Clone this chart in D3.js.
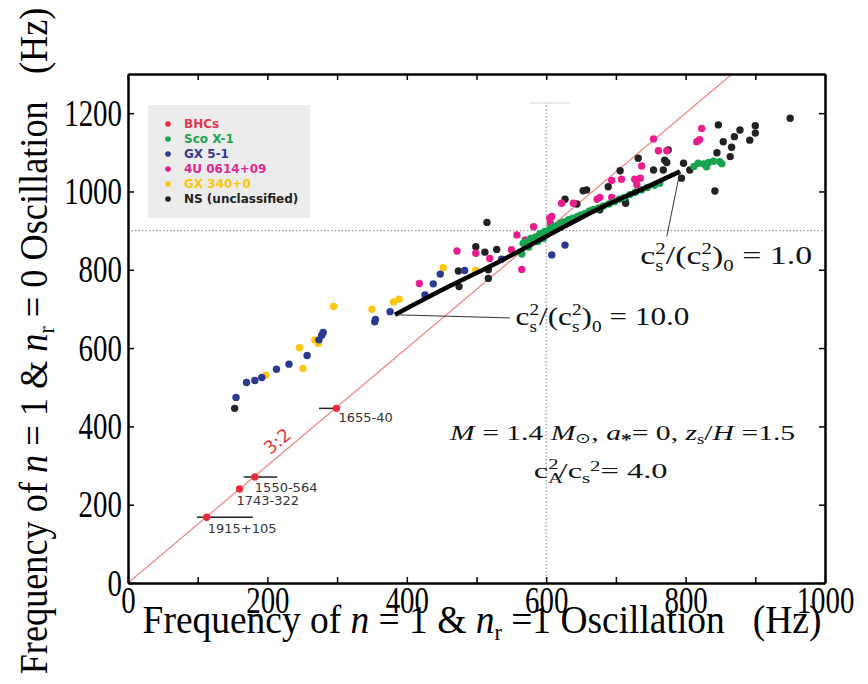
<!DOCTYPE html>
<html>
<head>
<meta charset="utf-8">
<script src="https://cdn.jsdelivr.net/npm/d3@7"></script>
<style>
  body { margin: 0; background: #fff; }
  svg { display: block; }
</style>
</head>
<body>
<svg id="chart" width="868" height="684"></svg>
<script>
// ---- data (Hz) ----
const seriesNames = ["BHCs", "Sco X-1", "GX 5-1", "4U 0614+09", "GX 340+0", "NS (unclassified)"];

const bhcNames = ["1915+105", "1743-322", "1550-564", "1655-40"];
const bhcLow   = [113, 160, 182, 299];
const bhcHigh  = [168, 240, 271, 446];
const bhcErrLo = [99, 160, 166, 274];
const bhcErrHi = [179, 160, 214, 300];

const scoX = [565,567,575,572,578,588,585,591,596,598,605,610,615,620,625,632,638,645,650,656,662,668,675,682,690,698,705,712,720,728,737,745,755,763,812,818,826,833,840,849,852,830];
const scoY = [840,868,858,872,880,872,884,893,880,898,904,910,912,918,922,928,932,936,940,944,950,954,958,963,968,974,980,985,992,998,1004,1010,1016,1021,1064,1072,1070,1074,1077,1076,1071,1063];

const gx5X = [155,170,182,192,213,231,257,274,278,280,354,355,376,426,438,448,483,536,608,627];
const gx5Y = [474,512,517,525,546,559,581,621,633,640,667,673,693,736,764,789,798,827,838,863];

const fourUX = [418,472,499,519,550,565,558,570,582,605,606,608,622,639,677,673,694,694,708,727,730,735,737,754,761,773,816,820,823];
const fourUY = [765,848,842,829,851,801,889,876,910,932,919,936,970,970,985,980,985,1028,1031,1031,1017,1034,1065,1134,1104,1104,1127,1132,1161];

const gx340X = [198,246,251,268,273,295,350,381,389,452,499];
const gx340Y = [531,601,548,621,612,706,699,718,725,805,798];

const nsX = [153,474,475,499,512,515,517,517,529,644,627,653,658,677,689,706,713,714,732,754,768,770,773,775,794,797,806,842,845,847,854,864,866,870,878,892,900,900,950];
const nsY = [446,797,757,859,845,921,800,778,852,968,980,1002,1004,953,1012,1053,978,970,1085,1055,1055,1080,1074,1106,1034,1072,1055,1001,1099,1170,1127,1089,1113,1140,1157,1131,1168,1149,1187];

// model curve, cs^2/(cs^2)_0 from 10.0 (low end) to 1.0 (high end)
const modelX = [383,460,534,600,680,740,792];
const modelY = [685,757,822,885,960,1008,1051];

const xTicks = [0,100,200,300,400,500,600,700,800,900,1000];
const yTicks = [0,200,400,600,800,1000,1200];

// ---- layout ----
const SERIF = "'Liberation Serif', 'Times New Roman', serif";
const SANS = "'DejaVu Sans', Verdana, sans-serif";
const svg = d3.select("#chart");
const x = d3.scaleLinear().domain([0, 1000]).range([128, 825]);
const y = d3.scaleLinear().domain([0, 1300]).range([583, 74]);

const colors = ["#ee2a3b", "#18a550", "#2b3990", "#ec1c8c", "#fdc70f", "#222222"];
const textColors = ["#e8384f", "#1fa24f", "#34388f", "#e2288c", "#fbc60f", "#222222"];

function fitWidth(sel, w) {
  const b = sel.node().getBBox();
  sel.attr("transform", "scale(" + (w / b.width) + ",1)");
}

// reference lines
svg.append("line")
  .attr("x1", x(0)).attr("x2", x(1000)).attr("y1", y(900)).attr("y2", y(900))
  .attr("stroke", "#999").attr("stroke-width", 1.2).attr("stroke-dasharray", "1.5,2");
svg.append("line")
  .attr("x1", x(600)).attr("x2", x(600)).attr("y1", y(0)).attr("y2", y(1226))
  .attr("stroke", "#999").attr("stroke-width", 1.2).attr("stroke-dasharray", "1.5,2");
svg.append("line")
  .attr("x1", x(577)).attr("x2", x(634)).attr("y1", y(1226)).attr("y2", y(1226))
  .attr("stroke", "#ddd").attr("stroke-width", 1.2);

// 3:2 line
svg.append("line")
  .attr("x1", x(0)).attr("y1", y(0)).attr("x2", x(1300 / 1.5)).attr("y2", y(1300))
  .attr("stroke", "#f08a8a").attr("stroke-width", 1.3);

// legend
const lg = svg.append("g");
lg.append("rect").attr("x", 148).attr("y", 105).attr("width", 162).attr("height", 113).attr("fill", "#ececec");
seriesNames.forEach((n, i) => {
  lg.append("circle").attr("cx", 168).attr("cy", 124 + i * 15).attr("r", 2.8).attr("fill", colors[i]);
  lg.append("text").attr("font-family", SANS).attr("font-weight", "bold").attr("x", 184).attr("y", 124 + i * 15)
    .attr("dy", "0.35em").attr("font-size", 12).attr("fill", textColors[i]).text(n);
});

// scatter points
function dots(xs, ys, color) {
  svg.append("g").selectAll("circle").data(xs.map((v, i) => [v, ys[i]])).enter()
    .append("circle")
    .attr("cx", d => x(d[0])).attr("cy", d => y(d[1]))
    .attr("r", 3.7).attr("fill", color);
}
dots(nsX, nsY, colors[5]);
dots(gx340X, gx340Y, colors[4]);
dots(gx5X, gx5Y, colors[2]);
dots(fourUX, fourUY, colors[3]);
dots(scoX, scoY, colors[1]);

// model curve
svg.append("path")
  .datum(modelX.map((v, i) => [v, modelY[i]]))
  .attr("d", d3.line().x(d => x(d[0])).y(d => y(d[1])).curve(d3.curveMonotoneX))
  .attr("fill", "none").attr("stroke", "#000").attr("stroke-width", 4.5);

// BHCs with error bars
const bhc = svg.append("g");
bhcNames.forEach((n, i) => {
  if (bhcErrHi[i] > bhcErrLo[i]) {
    bhc.append("line").attr("x1", x(bhcErrLo[i])).attr("x2", x(bhcErrHi[i]))
      .attr("y1", y(bhcHigh[i])).attr("y2", y(bhcHigh[i]))
      .attr("stroke", "#222").attr("stroke-width", 1.5);
  }
  bhc.append("circle").attr("cx", x(bhcLow[i])).attr("cy", y(bhcHigh[i])).attr("r", 3.7).attr("fill", colors[0]);
});
const bhcLabelOffset = [[1, 16], [-3, 16], [0, 15], [2, 14]];
bhcNames.forEach((n, i) => {
  bhc.append("text").attr("font-family", SANS)
    .attr("x", x(bhcLow[i]) + bhcLabelOffset[i][0]).attr("y", y(bhcHigh[i]) + bhcLabelOffset[i][1])
    .attr("font-size", 13).attr("fill", "#333").text(n);
});

// 3:2 label
svg.append("text").attr("font-family", SANS)
  .attr("transform", "translate(" + x(220) + "," + y(350) + ") rotate(-40)")
  .attr("text-anchor", "middle").attr("font-size", 18).attr("fill", "#e83a3a").text("3:2");

// leader lines for model labels
const leader10 = [[383, 685], [548, 677]];
const leader1 = [[792, 1051], [773, 885]];
[leader10, leader1].forEach(l => {
  svg.append("line").attr("x1", x(l[0][0])).attr("y1", y(l[0][1]))
    .attr("x2", x(l[1][0])).attr("y2", y(l[1][1]))
    .attr("stroke", "#333").attr("stroke-width", 1);
});

// cs^2/(cs^2)_0 labels
function csLabel(px, py, val, width) {
  const g = svg.append("g").attr("transform", "translate(" + px + "," + py + ")");
  const t = g.append("text").attr("font-family", SERIF).attr("font-size", 26).attr("fill", "#111");
  t.append("tspan").text("c");
  t.append("tspan").attr("font-size", 16).attr("dy", 7).text("s");
  t.append("tspan").attr("font-size", 16).attr("dx", -6.2).attr("dy", -17).text("2");
  t.append("tspan").attr("dy", 10).text("/(c");
  t.append("tspan").attr("font-size", 16).attr("dy", 7).text("s");
  t.append("tspan").attr("font-size", 16).attr("dx", -6.2).attr("dy", -17).text("2");
  t.append("tspan").attr("dy", 10).text(")");
  t.append("tspan").attr("font-size", 16).attr("dy", 7).text("0");
  t.append("tspan").attr("dy", -7).style("white-space", "pre").text(" = " + val);
  fitWidth(t, width);
}
csLabel(x(556), y(658), "10.0", 174);
csLabel(x(735), y(815), "1.0", 172);

// parameter text
{
  const g = svg.append("g").attr("transform", "translate(" + x(462) + "," + y(366) + ")");
  const t = g.append("text").attr("font-family", SERIF).attr("font-size", 22).attr("fill", "#111").style("white-space", "pre");
  t.append("tspan").attr("font-style", "italic").text("M");
  t.append("tspan").text(" = 1.4 ");
  t.append("tspan").attr("font-style", "italic").text("M");
  t.append("tspan").attr("font-size", 14).attr("dy", 3).text("\u2299");
  t.append("tspan").attr("dy", -3).text(", ");
  t.append("tspan").attr("font-style", "italic").text("a");
  t.append("tspan").attr("font-size", 16).attr("font-weight", "bold").attr("dy", 5).text("*");
  t.append("tspan").attr("dy", -5).text("= 0, ");
  t.append("tspan").attr("font-style", "italic").text("z");
  t.append("tspan").attr("font-size", 14).attr("dy", 4).text("s");
  t.append("tspan").attr("dy", -4).text("/");
  t.append("tspan").attr("font-style", "italic").text("H");
  t.append("tspan").text(" =1.5");
  fitWidth(t, 347);

  const g2 = svg.append("g").attr("transform", "translate(" + x(582) + "," + y(268) + ")");
  const t2 = g2.append("text").attr("font-family", SERIF).attr("font-size", 22).attr("fill", "#111").style("white-space", "pre");
  t2.append("tspan").text("c");
  t2.append("tspan").attr("font-size", 14).attr("dy", 5).text("A");
  t2.append("tspan").attr("font-size", 14).attr("dx", -10).attr("dy", -14).text("2");
  t2.append("tspan").attr("dy", 9).text("/c");
  t2.append("tspan").attr("font-size", 14).attr("dy", 5).text("s");
  t2.append("tspan").attr("font-size", 14).attr("dy", -12).text("2");
  t2.append("tspan").attr("dy", 7).text("= 4.0");
  fitWidth(t2, 134);
}

// axes (frame with inward ticks)
function styleAxis(g) {
  g.attr("font-family", SERIF);
  g.select(".domain").attr("stroke", "#000").attr("stroke-width", 2.5);
  g.selectAll(".tick line").attr("stroke", "#000").attr("stroke-width", 1.5);
  g.selectAll("text").attr("font-family", SERIF).attr("font-size", 38).attr("fill", "#000");
}
const fmt = d => (d % 200 === 0 ? String(d) : "");
const gb = svg.append("g").attr("transform", "translate(0," + y(0) + ")")
  .call(d3.axisBottom(x).tickValues(xTicks).tickSize(-6).tickSizeOuter(0).tickPadding(3).tickFormat(fmt));
styleAxis(gb);
gb.selectAll(".tick text").attr("transform", "scale(0.76,1)");
const gt = svg.append("g").attr("transform", "translate(0," + y(1300) + ")")
  .call(d3.axisTop(x).tickValues(xTicks).tickSize(-6).tickSizeOuter(0).tickFormat(""));
styleAxis(gt);
const gl = svg.append("g").attr("transform", "translate(" + x(0) + ",0)")
  .call(d3.axisLeft(y).tickValues(yTicks).tickSize(-6).tickSizeOuter(0).tickPadding(8).tickFormat(d => String(d)));
styleAxis(gl);
gl.selectAll(".tick text").attr("transform", "scale(0.76,1)");
const gr = svg.append("g").attr("transform", "translate(" + x(1000) + ",0)")
  .call(d3.axisRight(y).tickValues(yTicks).tickSize(-6).tickSizeOuter(0).tickFormat(""));
styleAxis(gr);

// axis titles
function axisTitle(g, last) {
  const t = g.append("text").attr("font-family", SERIF).attr("font-size", 40).attr("fill", "#000")
    .attr("text-anchor", "middle").style("white-space", "pre");
  t.append("tspan").text("Frequency of ");
  t.append("tspan").attr("font-style", "italic").text("n");
  t.append("tspan").text(" = 1 & ");
  t.append("tspan").attr("font-style", "italic").text("n");
  t.append("tspan").attr("font-size", 24).attr("dy", 7).text("r");
  t.append("tspan").attr("dy", -7).text(last);
  return t;
}
const xt = axisTitle(svg.append("g").attr("transform", "translate(482,633)"), " =1 Oscillation   (Hz)");
fitWidth(xt, 679);
const yt = axisTitle(svg.append("g").attr("transform", "translate(47,341) rotate(-90)"), " = 0 Oscillation   (Hz)");
fitWidth(yt, 667);
</script>
</body>
</html>
